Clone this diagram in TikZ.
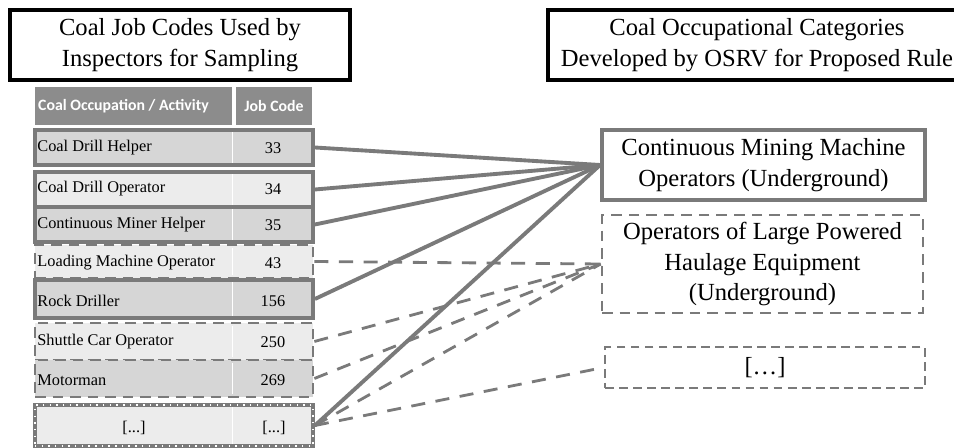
\documentclass[tikz,border=0pt]{standalone}
\usepackage{fontspec}
\setmainfont{Liberation Serif}
\newfontfamily\headfont{Carlito}
\usetikzlibrary{positioning, calc}
\definecolor{linegray}{RGB}{122,122,122}
\definecolor{headgray}{RGB}{140,140,140}
\definecolor{rowdark}{RGB}{214,214,214}
\definecolor{rowlight}{RGB}{236,236,236}
\tikzset{
  titlebox/.style={draw=black, line width=2.4pt, fill=white, align=center, inner sep=0pt,
	font=\fontsize{14}{17.6}\selectfont}, % the two headings
  headcell/.style={fill=headgray, text=white, inner sep=0pt, minimum height=0.76cm,
	font=\headfont\bfseries\fontsize{9}{11}\selectfont}, % table header
  rowsolid/.style={draw=linegray, line width=2.2pt, minimum width=5.56cm, inner sep=0pt}, % job code row, linked by a solid line
  rowdash/.style={draw=linegray, line width=1.6pt, dash pattern=on 6pt off 4pt,
	minimum width=5.56cm, inner sep=0pt}, % job code row, linked by a dashed line
  rowtext/.style={anchor=west, inner sep=0pt, font=\fontsize{9.3}{11}\selectfont},
  codetext/.style={inner sep=0pt, font=\fontsize{9.3}{11}\selectfont},
  colsep/.style={white, line width=0.6pt, shorten >=2.5pt, shorten <=2.5pt}, % column split
  catsolid/.style={draw=linegray, line width=2.2pt, fill=white, align=center, inner sep=0pt,
	font=\fontsize{14}{17.6}\selectfont},
  catdash/.style={catsolid, line width=1.6pt, dash pattern=on 6pt off 4pt},
  link/.style={draw=linegray, line width=2.2pt}, % solid connector
  dashlink/.style={draw=linegray, line width=1.6pt, dash pattern=on 8pt off 6pt}, % dashed connector
}
\begin{document}
\begin{tikzpicture}[x=0.02cm, y=-0.02cm]
\path[use as bounding box, fill=white] (0,0) rectangle (954,448);

% headings
\node[titlebox, minimum width=6.8cm, minimum height=1.4cm] (jobtitle) at (180,45) {Coal Job Codes Used by\\Inspectors for Sampling};
\node[titlebox, minimum width=8.36cm, minimum height=1.4cm] (cattitle) at (757,45) {Coal Occupational Categories\\Developed by OSRV for Proposed Rule};

% table header
\node[headcell, minimum width=3.94cm] (headocc) at (133.5,106) {\hspace{-0.4cm}Coal Occupation / Activity};
\node[headcell, minimum width=1.52cm] (headcode) at (274,106) {Job Code};

% table rows
\node[rowsolid, fill=rowdark, minimum height=0.7cm] (helper) at (174,147.5) {};
\node[rowsolid, fill=rowlight, minimum height=0.7cm] (operator) at (174,189.5) {};
\node[rowsolid, fill=rowdark, minimum height=0.7cm] (minerhelper) at (174,224.5) {};
\node[rowdash, fill=rowlight, minimum height=0.66cm] (loading) at (174,261.5) {};
\node[rowsolid, fill=rowdark, minimum height=0.76cm] (driller) at (174,299) {};
\node[rowdash, fill=rowlight, minimum height=0.74cm] (shuttle) at (174,341.5) {};
\node[rowdash, fill=rowdark, minimum height=0.74cm] (motorman) at (174,378.5) {};
\node[rowsolid, fill=rowlight, minimum height=0.82cm,
	postaction={draw=white, line width=0.7pt, dash pattern=on 0.8pt off 3pt}] (more) at (174,425.5) {};

\foreach \r in {helper, operator, minerhelper, loading, driller, shuttle, motorman, more}
	\draw[colsep] ($(\r.north west)+(199,0)$) -- ($(\r.south west)+(199,0)$);

\node[rowtext] (helpertxt) at (37,148) {Coal Drill Helper};
\node[codetext] (helpercode) at (273,148) {33};
\node[rowtext] (operatortxt) at (37,189) {Coal Drill Operator};
\node[codetext] (operatorcode) at (273,189) {34};
\node[rowtext] (minerhelpertxt) at (37,225) {Continuous Miner Helper};
\node[codetext] (minerhelpercode) at (273,225) {35};
\node[rowtext] (loadingtxt) at (37,263) {Loading Machine Operator};
\node[codetext] (loadingcode) at (273,263) {43};
\node[rowtext] (drillertxt) at (37,301) {Rock Driller};
\node[codetext] (drillercode) at (273,301) {156};
\node[rowtext] (shuttletxt) at (37,342) {Shuttle Car Operator};
\node[codetext] (shuttlecode) at (273,342) {250};
\node[rowtext] (motormantxt) at (37,380) {Motorman};
\node[codetext] (motormancode) at (273,380) {269};
\node[codetext] (moretxt) at (134,428) {[...]};
\node[codetext] (morecode) at (274,428) {[...]};

% occupational categories
\node[catsolid, minimum width=6.46cm, minimum height=1.4cm] (cmm) at (763.5,165) {Continuous Mining Machine\\Operators (Underground)};
\node[catdash, minimum width=6.42cm, minimum height=1.96cm] (haulage) at (762.5,264) {Operators of Large Powered\\Haulage Equipment\\(Underground)};
\node[catdash, dash pattern=on 5pt off 3pt, minimum width=6.4cm, minimum height=0.82cm] (othercat) at (765,367.5) {[\ldots]};

% connectors
\draw[link] (helper.east) -- (cmm.west);
\draw[link] (operator.east) -- (cmm.west);
\draw[link] (minerhelper.east) -- (cmm.west);
\draw[link] (driller.east) -- (cmm.west);
\draw[link] (more.east) -- (cmm.west);
\draw[dashlink] (loading.east) -- (haulage.west);
\draw[dashlink] (shuttle.east) -- (haulage.west);
\draw[dashlink] (motorman.east) -- (haulage.west);
\draw[dashlink] (more.east) -- (haulage.west);
\draw[dashlink] (more.east) -- (othercat.west);
\end{tikzpicture}
\end{document}
